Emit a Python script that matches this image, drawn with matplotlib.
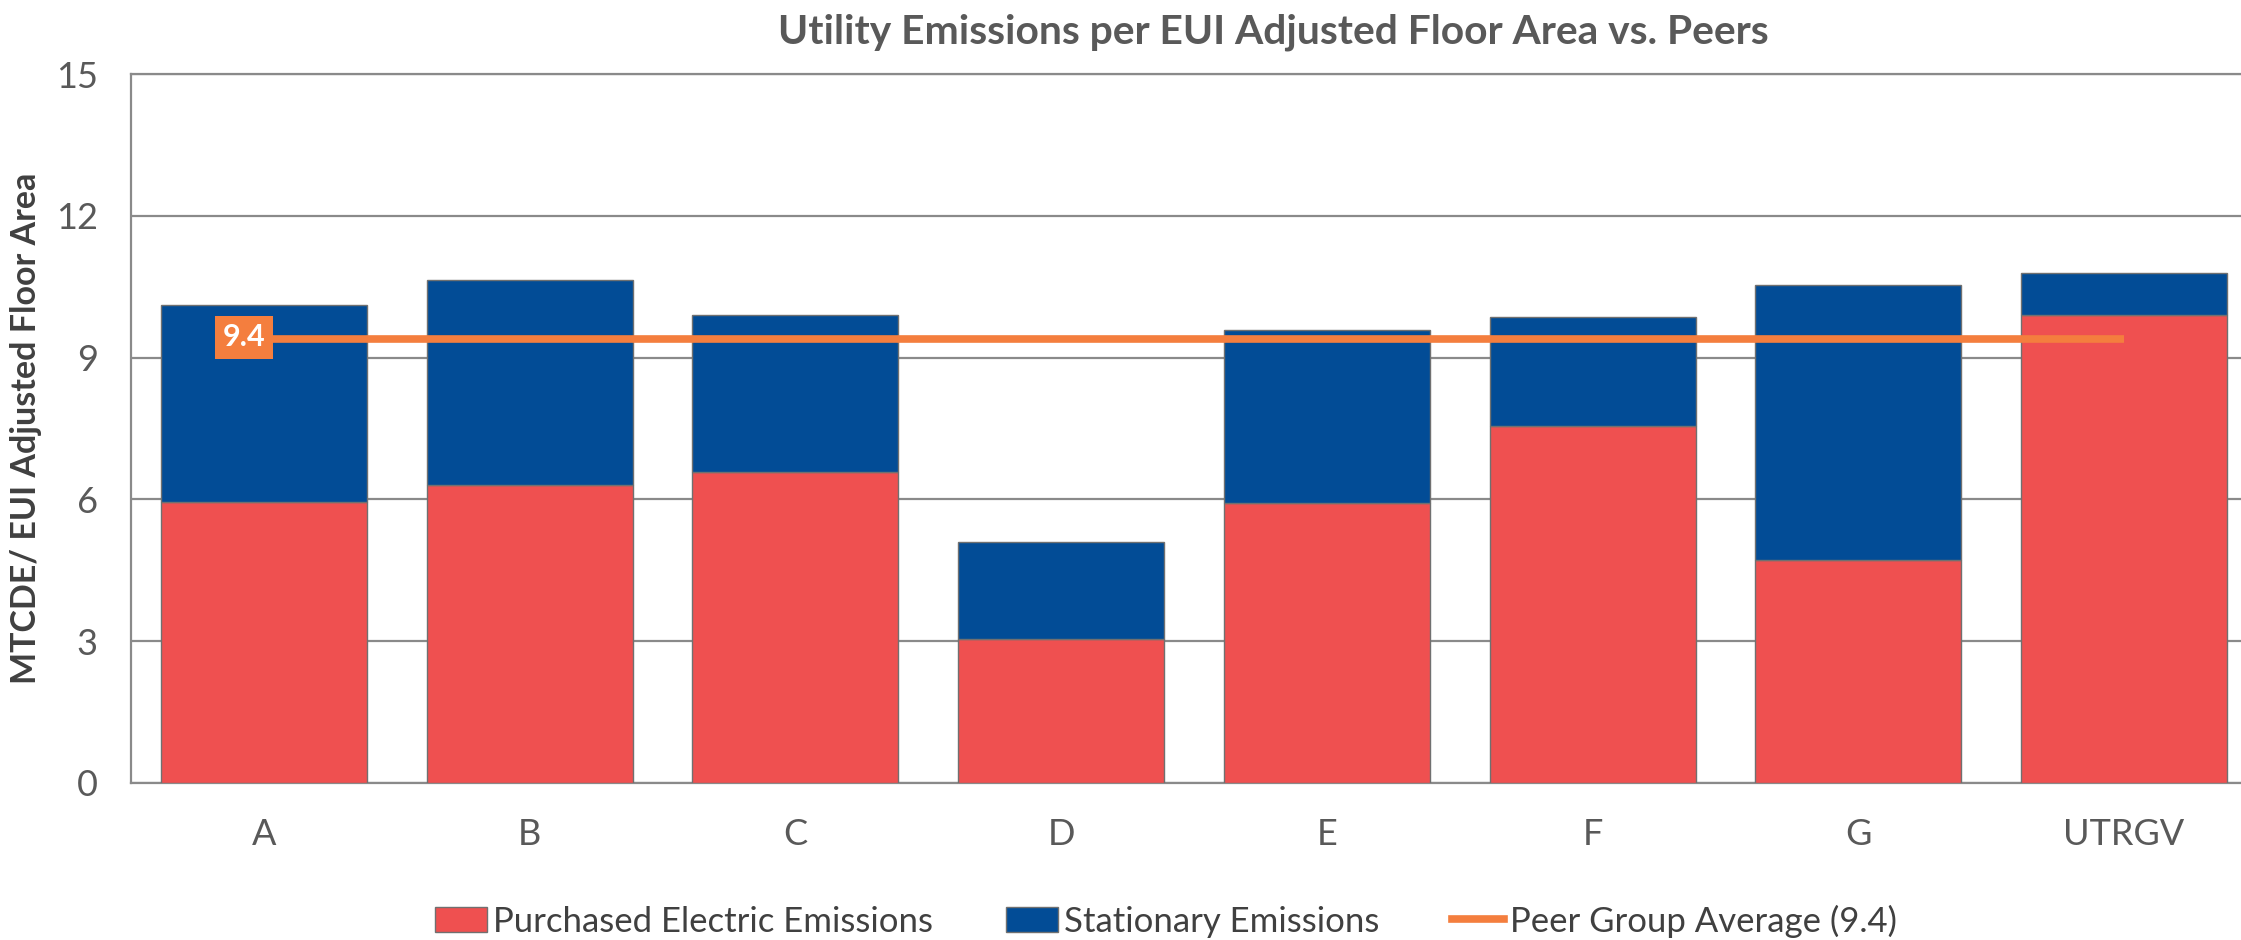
import matplotlib
matplotlib.use("Agg")
import matplotlib.pyplot as plt
import numpy as np
from matplotlib.patches import Patch
from matplotlib.lines import Line2D

plt.rcParams['font.family'] = ['Lato', 'DejaVu Sans']

# values
categories = ["A", "B", "C", "D", "E", "F", "G", "UTRGV"]
purchased_electric = [5.95, 6.31, 6.57, 3.05, 5.93, 7.55, 4.72, 9.91]
stationary_total = [10.12, 10.65, 9.91, 5.10, 9.59, 9.85, 10.53, 10.78]
peer_avg = 9.4

stationary = [t - p for t, p in zip(stationary_total, purchased_electric)]

red = "#EF5050"
blue = "#024C96"
orange = "#F47E3E"
grid_col = "#8A8A8A"

fig = plt.figure(figsize=(22.41, 9.40), dpi=100)
# the plot area runs past the right edge of the picture, as in the original
ax = fig.add_axes([131 / 2241, 1 - 783 / 940, 2126 / 2241, (783 - 74) / 940])

x = np.arange(len(categories))
ax.bar(x, purchased_electric, width=0.775, color=red, edgecolor="#707070",
       linewidth=1, zorder=3)
ax.bar(x, stationary, width=0.775, bottom=purchased_electric, color=blue,
       edgecolor="#707070", linewidth=1, zorder=3)
ax.plot([x[0], x[-1]], [peer_avg, peer_avg], color=orange, linewidth=5.5,
        solid_capstyle="butt", zorder=4)
ax.annotate("9.4", xy=(x[0], peer_avg), xytext=(-14, 1), textcoords="offset points",
            ha="center", va="center", fontsize=22, fontweight="bold", color="white",
            bbox=dict(boxstyle="square,pad=0.25", fc=orange, ec="none"), zorder=5)

ax.set_xlim(-0.5, 7.5)
ax.set_ylim(0, 15)
ax.set_yticks([0, 3, 6, 9, 12, 15])
ax.set_xticks(x)
ax.set_xticklabels(categories)
ax.tick_params(axis="both", length=0, labelsize=26, colors="#595959")
ax.tick_params(axis="y", pad=24)
ax.tick_params(axis="x", pad=25)
ax.yaxis.grid(True, color=grid_col, linewidth=1.6, zorder=0)
ax.set_axisbelow(True)
for side in ["left", "bottom", "top"]:
    ax.spines[side].set_color(grid_col)
    ax.spines[side].set_linewidth(1.6)
ax.spines["right"].set_visible(False)

ax.set_ylabel("MTCDE/ EUI Adjusted Floor Area", fontsize=24.5, fontweight="bold",
              color="#404040")
ax.yaxis.set_label_coords(-89 / 2126, 0.5)

fig.text(1273 / 2241, 1 - 32 / 940, "Utility Emissions per EUI Adjusted Floor Area vs. Peers",
         ha="center", va="center", fontsize=29.3, fontweight="bold", color="#595959")

handles = [Patch(facecolor=red, edgecolor="#707070", linewidth=1),
           Patch(facecolor=blue, edgecolor="#707070", linewidth=1),
           Line2D([0], [0], color=orange, linewidth=5.5)]
labels = ["Purchased Electric Emissions", "Stationary Emissions", "Peer Group Average (9.4)"]
fig.legend(handles, labels, loc="center", bbox_to_anchor=(1166 / 2241, 1 - 921 / 940),
           ncol=3, frameon=False, fontsize=25, handlelength=1.5, handleheight=0.75,
           handletextpad=0.17, columnspacing=2.1, labelcolor="#404040")

fig.savefig("out.png", dpi=100)
